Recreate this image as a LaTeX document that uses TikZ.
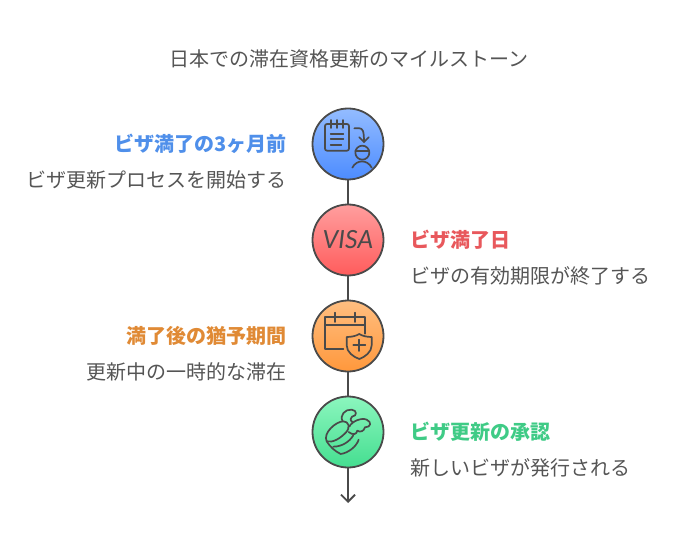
\documentclass[tikz,border=0pt]{standalone}
\usepackage{fontspec}
\setmainfont{Noto Sans CJK JP}
\newfontfamily\visafont{Lato}
\usetikzlibrary{arrows.meta}
\definecolor{txtgray}{HTML}{555555}
\definecolor{linegray}{HTML}{4A4A4A}
\definecolor{headblue}{HTML}{4F8FEA}
\definecolor{headred}{HTML}{E8585C}
\definecolor{headorange}{HTML}{E08A35}
\definecolor{headgreen}{HTML}{3FCB86}
\definecolor{bluetop}{RGB}{148,188,255}
\definecolor{bluebot}{RGB}{76,140,255}
\definecolor{redtop}{RGB}{255,158,158}
\definecolor{redbot}{RGB}{255,92,92}
\definecolor{orangetop}{RGB}{255,190,128}
\definecolor{orangebot}{RGB}{255,152,60}
\definecolor{greentop}{RGB}{140,246,190}
\definecolor{greenbot}{RGB}{68,222,144}
\tikzset{
  mile/.style={circle, draw=linegray, line width=1.8pt, minimum size=71pt, inner sep=0pt},
  head/.style={font=\fontsize{20}{22}\selectfont\bfseries, inner sep=0pt},
  sub/.style={font=\fontsize{20}{22}\selectfont, text=txtgray, inner sep=0pt},
  iconat/.style={shift={#1}, x=.3333pt, y=-.3333pt},
  iconline/.style={draw=linegray, line width=1.7pt, line cap=round, line join=round}
}
\begin{document}
\begin{tikzpicture}[x=1pt, y=-1pt]
  \useasboundingbox (0,0) rectangle (684,553);
  \node[sub] (title) at (349,59) {日本での滞在資格更新のマイルストーン};

  \node[mile, top color=bluetop, bottom color=bluebot] (c1) at (348,144) {};
  \node[mile, top color=redtop, bottom color=redbot] (c2) at (348,240) {};
  \node[mile, top color=orangetop, bottom color=orangebot] (c3) at (348,336) {};
  \node[mile, top color=greentop, bottom color=greenbot] (c4) at (348,432) {};
  \coordinate (end) at (348,503);

  \draw[linegray, line width=1.8pt] (c1) -- (c2);
  \draw[linegray, line width=1.8pt] (c2) -- (c3);
  \draw[linegray, line width=1.8pt] (c3) -- (c4);
  \draw[linegray, line width=1.8pt, -{Straight Barb[length=7pt, width=14pt]}] (c4) -- (end);

  \node[head, text=headblue, anchor=east] (h1) at (287,144) {ビザ満了の3ヶ月前};
  \node[sub, anchor=east] (s1) at (287,180) {ビザ更新プロセスを開始する};
  \node[head, text=headred, anchor=west] (h2) at (410,240) {ビザ満了日};
  \node[sub, anchor=west] (s2) at (410,276) {ビザの有効期限が終了する};
  \node[head, text=headorange, anchor=east] (h3) at (287,336) {満了後の猶予期間};
  \node[sub, anchor=east] (s3) at (287,372) {更新中の一時的な滞在};
  \node[head, text=headgreen, anchor=west] (h4) at (410,432) {ビザ更新の承認};
  \node[sub, anchor=west] (s4) at (410,468) {新しいビザが発行される};

  % notepad and person
  \begin{scope}[iconat={(300,100)}]
    \draw[iconline, rounded corners=2pt] (75,72) rectangle (147,152);
    \draw[iconline] (92,60) -- (92,84) (110,60) -- (110,84) (128,60) -- (128,84);
    \draw[iconline] (92,102) -- (130,102) (92,118) -- (130,118) (92,135) -- (124,135);
    \draw[iconline] (163,85) -- (178,85) .. controls (188,85) and (192,92) .. (192,126);
    \draw[iconline] (178,112) -- (192,126) -- (206,112);
    \draw[iconline] (187,158) circle (21);
    \draw[iconline] (166,154) -- (208,154);
    \draw[iconline] (157,203) .. controls (170,178) and (202,178) .. (215,203);
  \end{scope}

  \node[text=linegray, font=\visafont\itshape\fontsize{25}{25}\selectfont] (visa) at (348,240) {VISA};

  % calendar and shield
  \begin{scope}[iconat={(300,292)}]
    \draw[iconline] (130,170) -- (75,170) -- (75,75) -- (195,75) -- (195,125);
    \draw[iconline] (75,100) -- (195,100);
    \draw[iconline] (105,62) -- (105,90) (165,62) -- (165,90);
    \draw[iconline] (140,135) .. controls (155,135) and (168,132) .. (178,126) .. controls (188,132) and (200,135) .. (215,135) -- (215,160) .. controls (215,180) and (195,195) .. (178,201) .. controls (160,195) and (140,180) .. (140,160) -- cycle;
    \draw[iconline] (178,143) -- (178,177) (160,160) -- (196,160);
  \end{scope}

  % wings
  \begin{scope}[iconat={(300,388)}]
    \draw[iconline] (80,160) .. controls (68,135) and (108,100) .. (130,100) .. controls (146,100) and (152,118) .. (138,133) .. controls (122,150) and (100,165) .. (80,160);
    \draw[iconline] (128,100) .. controls (118,82) and (135,63) .. (155,65) .. controls (172,67) and (172,84) .. (156,86) .. controls (150,90) and (150,97) .. (158,103);
    \draw[iconline] (148,116) .. controls (155,100) and (185,88) .. (200,95) .. controls (216,102) and (213,118) .. (195,118) .. controls (192,130) and (180,134) .. (172,128) .. controls (170,140) and (158,142) .. (146,132);
    \draw[iconline] (80,160) .. controls (90,176) and (105,190) .. (122,198) .. controls (145,195) and (170,175) .. (176,155);
    \draw[iconline] (100,176) .. controls (125,176) and (148,162) .. (160,142);
  \end{scope}
\end{tikzpicture}
\end{document}
